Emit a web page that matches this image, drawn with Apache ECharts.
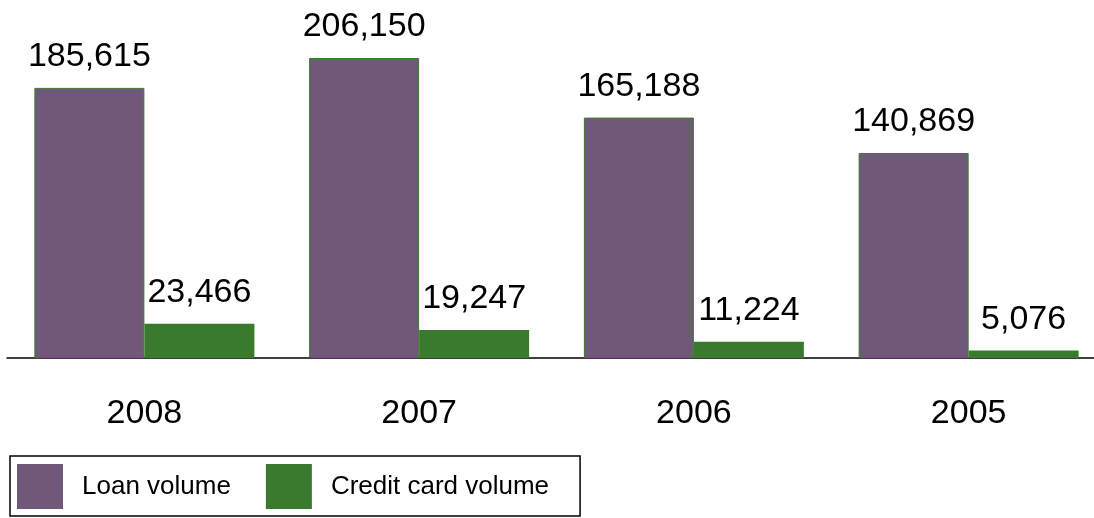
<!DOCTYPE html>
<html>
<head>
<meta charset="utf-8">
<title>Loan and credit card volume</title>
<script src="https://cdn.jsdelivr.net/npm/echarts@6/dist/echarts.min.js"></script>
<style>
  html, body { margin: 0; padding: 0; background: #ffffff; overflow: hidden; width: 1094px; height: 518px; }
  /* canvas is a bit wider than the page so the last year runs off the right edge */
  #chart { width: 1106px; height: 518px; }
</style>
</head>
<body>
<div id="chart"></div>
<script>
// Years shown left to right
const years = ['2008', '2007', '2006', '2005'];
// Volumes per year
const loanVolume = [185615, 206150, 165188, 140869];
const creditCardVolume = [23466, 19247, 11224, 5076];

const FONT = '"Liberation Sans", Arial, Helvetica, sans-serif';
const PURPLE = '#70587a';
const GREEN = '#3a7a2e';

const fmt = v => v.toLocaleString('en-US');

const chart = echarts.init(document.getElementById('chart'), null, { renderer: 'canvas' });

chart.setOption({
  animation: false,
  backgroundColor: '#ffffff',
  textStyle: { fontFamily: FONT },
  grid: { left: 7, right: 0, top: 0, height: 358, containLabel: false },
  xAxis: {
    type: 'category',
    data: years,
    axisLine: { show: true, lineStyle: { color: '#000000', width: 1.5 } },
    axisTick: { show: false },
    axisLabel: { color: '#000000', fontSize: 34, fontFamily: FONT, margin: 39 }
  },
  yAxis: {
    type: 'value',
    min: 0,
    max: 246000,
    show: false,
    splitLine: { show: false }
  },
  legend: {
    left: 10,
    top: 456,
    orient: 'horizontal',
    icon: 'rect',
    itemWidth: 46,
    itemHeight: 45,
    itemGap: 35,
    padding: [8, 31, 7, 7],
    borderColor: '#000000',
    borderWidth: 1.5,
    itemStyle: { borderWidth: 0 },
    textStyle: { color: '#000000', fontSize: 26, fontFamily: FONT, padding: [0, 0, 0, 14] },
    data: ['Loan volume', 'Credit card volume']
  },
  series: [
    {
      name: 'Loan volume',
      type: 'bar',
      data: loanVolume,
      barWidth: 110,
      barGap: '0%',
      itemStyle: { color: PURPLE, borderColor: GREEN, borderWidth: 1 },
      label: {
        show: true,
        position: 'top',
        distance: 14,
        color: '#000000',
        fontSize: 34,
        fontFamily: FONT,
        formatter: p => fmt(p.value)
      }
    },
    {
      name: 'Credit card volume',
      type: 'bar',
      data: creditCardVolume,
      barWidth: 110,
      barGap: '0%',
      itemStyle: { color: GREEN },
      label: {
        show: true,
        position: 'top',
        distance: 14,
        color: '#000000',
        fontSize: 34,
        fontFamily: FONT,
        formatter: p => fmt(p.value)
      }
    }
  ]
});
</script>
</body>
</html>
